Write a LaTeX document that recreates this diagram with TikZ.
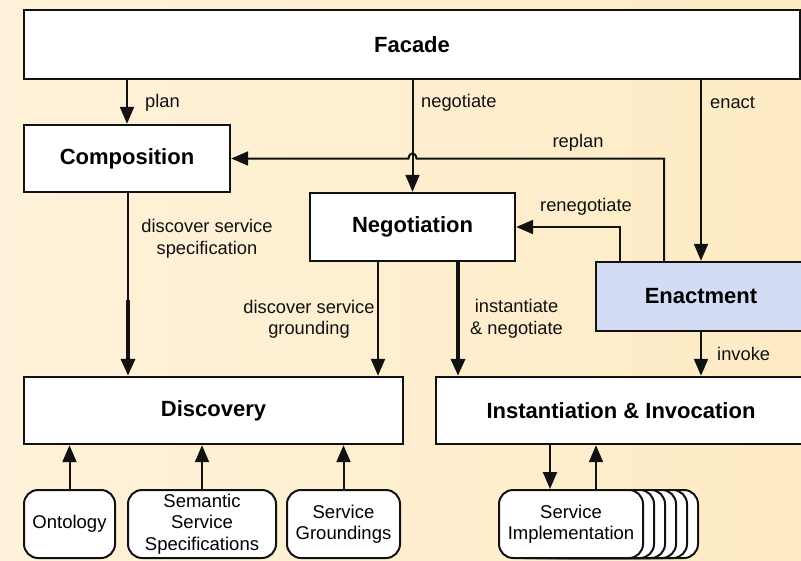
\documentclass[tikz,border=0pt]{standalone}
\usepackage{fontspec}
\setmainfont{Liberation Sans}
\usetikzlibrary{arrows.meta}
\definecolor{bgL}{HTML}{FEF2DA}
\definecolor{bgR}{HTML}{FEEBC4}
\definecolor{enactfill}{HTML}{D4DCF5}
\definecolor{ink}{HTML}{111111}
\begin{document}
\begin{tikzpicture}[x=1pt,y=-1pt,
  box/.style={draw=ink, line width=2.4pt, fill=white, inner sep=0pt,
    font=\fontsize{22}{26}\selectfont\bfseries},
  store/.style={draw=ink, line width=2pt, fill=white, rounded corners=14pt,
    inner sep=0pt, align=center, minimum height=68pt,
    font=\fontsize{18.5}{21.5}\selectfont},
  lbl/.style={inner sep=0pt, align=center, text=ink,
    font=\fontsize{18.3}{21.5}\selectfont},
  conn/.style={draw=ink, line width=2pt},
  arr/.style={conn, -{Triangle[length=17pt,width=14pt]}},
  thickarr/.style={arr, line width=3.6pt},
]
% background
\shade[left color=bgL, right color=bgR] (0,0) rectangle (801,560);
\useasboundingbox (0,0) rectangle (801,560);

% main components
\node[box, minimum width=776pt, minimum height=69pt] (facade) at (412,44.5) {Facade};
\node[box, minimum width=206pt, minimum height=67pt] (comp) at (127,158.5) {Composition};
\node[box, minimum width=205pt, minimum height=68pt] (nego) at (412.5,227) {Negotiation};
\node[box, fill=enactfill, minimum width=210pt, minimum height=69pt] (enact) at (701,296.5) {Enactment};
\node[box, minimum width=379pt, minimum height=67pt] (disc) at (213.5,410.5) {Discovery};
\node[box, minimum width=370pt, minimum height=67pt] (inst) at (621,410.5) {Instantiation \& Invocation};

% repositories
\node[store, minimum width=91pt] (onto) at (69.5,524) {Ontology};
\node[store, minimum width=148pt] (sem) at (202,524) {Semantic\\Service\\Specifications};
\node[store, minimum width=113pt] (grd) at (343.5,524) {Service\\Groundings};
\foreach \k in {5,4,3,2,1}
  \node[store, minimum width=144pt] (impl\k) at (571+11*\k,524) {};
\node[store, minimum width=144pt] (impl) at (571,524) {Service\\Implementation};

% facade calls
\draw[arr] (comp.north |- facade.south) -- (comp.north);
\draw[arr] (nego.north |- facade.south) -- (nego.north);
\draw[arr] (enact.north |- facade.south) -- (enact.north);
\node[lbl, anchor=west] (lplan) at (145,103) {plan};
\node[lbl, anchor=west] (lnego) at (421,103) {negotiate};
\node[lbl, anchor=west] (lenact) at (710,103) {enact};

% feedback from enactment
\coordinate (rp) at ([xshift=-37pt]enact.north);
\coordinate (rpc) at (rp |- comp.east);
\draw[arr] (rp) -- (rpc) -- ([xshift=4pt]nego.north |- comp.east)
  .. controls +(-1,-7) and +(1,-7) .. ([xshift=-4pt]nego.north |- comp.east)
  -- (comp.east);
\node[lbl] (lreplan) at (578,143) {replan};
\coordinate (rn) at ([xshift=-81pt]enact.north);
\draw[arr] (rn) |- (nego.east);
\node[lbl] (lreneg) at (586,206.5) {renegotiate};

% discovery requests
\coordinate (ds) at (128,300);
\draw[conn] (comp.south -| ds) -- (ds);
\draw[thickarr] (ds) -- (ds |- disc.north);
\node[lbl] (lds) at (207,239) {discover service\\specification};
\coordinate (dg) at ([xshift=-34.5pt]nego.south);
\draw[arr] (dg) -- (dg |- disc.north);
\node[lbl] (ldg) at (309,319.5) {discover service\\grounding};
\coordinate (in) at ([xshift=45.5pt]nego.south);
\draw[thickarr] (in) -- (in |- inst.north);
\node[lbl] (lin) at (516.5,319) {instantiate\\\& negotiate};
\draw[arr] (enact.south) -- (enact.south |- inst.north);
\node[lbl, anchor=west] (linv) at (717,354) {invoke};

% repository links
\draw[arr] (onto.north) -- (onto.north |- disc.south);
\draw[arr] (sem.north) -- (sem.north |- disc.south);
\draw[arr] (grd.north) -- (grd.north |- disc.south);
\coordinate (idn) at ([xshift=-21pt]impl.north);
\coordinate (iup) at ([xshift=25pt]impl.north);
\draw[arr] (idn |- inst.south) -- (idn);
\draw[arr] (iup) -- (iup |- inst.south);
\end{tikzpicture}
\end{document}
